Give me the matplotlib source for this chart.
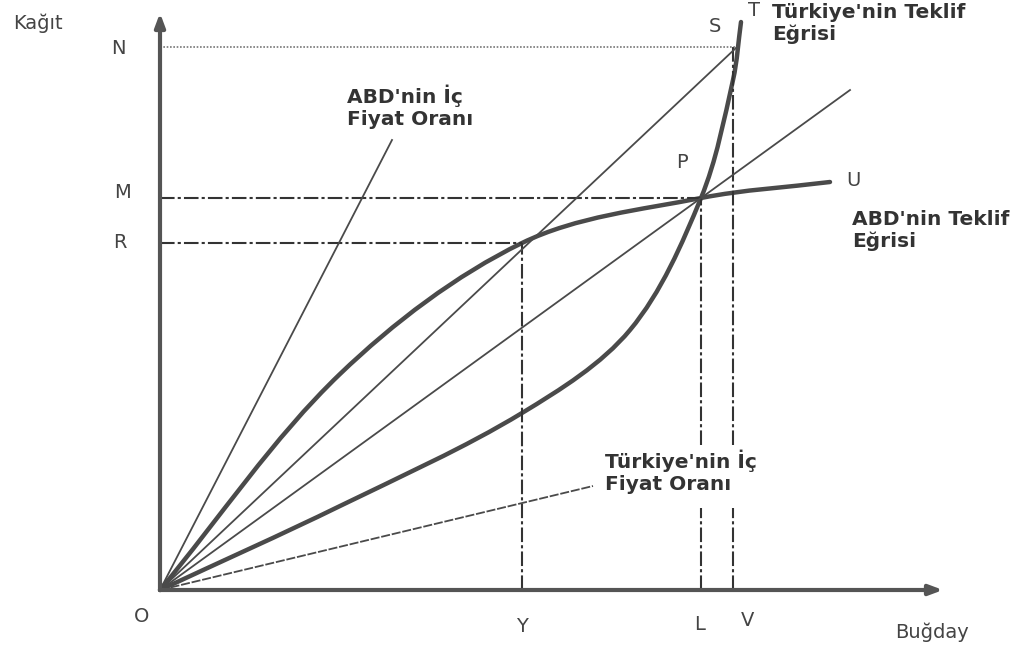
import numpy as np
import matplotlib.pyplot as plt
from matplotlib.path import Path
from matplotlib.patches import PathPatch

plt.rcParams['font.family'] = ['DejaVu Sans']

# Key levels (wheat on x, paper on y)
x_Y, x_L, x_V = 36.2, 54.1, 57.3
y_R, y_M, y_N = 34.7, 39.2, 54.3
S_pt = (57.7, 54.3)
x_axis_end, y_axis_end = 78.3, 57.7

# Offer curves (key points along each curve)
abd_x = [0, 18.0, 36.2, 54.1, 67.0]
abd_y = [0, 21.6, 34.7, 39.2, 40.8]
tr_x = [0, 18.0, 36.2, 47.0, 54.1, 57.3, 58.1]
tr_y = [0, 8.4, 17.7, 26.0, 39.2, 51.0, 56.8]

# Price-ratio rays from the origin: end points
abd_price_end = (23.2, 45.0)
tr_price_end = (43.3, 10.4)
op_ray_end_x = 69.0

line_col = '#4a4a4a'
text_col = '#333333'


def smooth_path(xs, ys):
    # cubic Hermite through the points, chord-length parameter
    pts = np.column_stack([xs, ys]).astype(float)
    d = np.hypot(*np.diff(pts, axis=0).T)
    t = np.concatenate([[0], np.cumsum(d)])
    n = len(pts)
    tang = np.zeros_like(pts)
    for i in range(n):
        if i == 0:
            tang[i] = (pts[1] - pts[0]) / (t[1] - t[0])
        elif i == n - 1:
            tang[i] = (pts[-1] - pts[-2]) / (t[-1] - t[-2])
        else:
            tang[i] = (pts[i + 1] - pts[i - 1]) / (t[i + 1] - t[i - 1])
    verts = [pts[0]]
    codes = [Path.MOVETO]
    for i in range(n - 1):
        h = t[i + 1] - t[i]
        verts += [pts[i] + tang[i] * h / 3, pts[i + 1] - tang[i + 1] * h / 3, pts[i + 1]]
        codes += [Path.CURVE4] * 3
    return Path(verts, codes)


fig = plt.figure(figsize=(10.29, 6.52), dpi=100)
ax = fig.add_axes([0, 0, 1, 1])
ax.set_xlim(-16.0, 86.9)
ax.set_ylim(-6.2, 59.0)
ax.axis('off')

# axes with arrows
arrow = dict(arrowstyle='-|>,head_length=0.8,head_width=0.3', color='#555555', lw=3,
             shrinkA=0, shrinkB=0)
ax.annotate('', xy=(0, y_axis_end), xytext=(0, 0), arrowprops=arrow)
ax.annotate('', xy=(x_axis_end, 0), xytext=(0, 0), arrowprops=arrow)

# reference lines
dash = (0, (7, 1.5, 1.5, 1.5))
ax.plot([0, S_pt[0]], [y_N, y_N], color='#777777', lw=1.2, ls=(0, (1, 1)))
ax.plot([0, x_L], [y_M, y_M], color='#333333', lw=1.5, ls=dash)
ax.plot([0, x_Y], [y_R, y_R], color='#333333', lw=1.5, ls=dash)
ax.plot([x_Y, x_Y], [0, y_R], color='#333333', lw=1.5, ls=dash)
gap_lo, gap_hi = 8.2, 14.5
for xv, ytop in [(x_L, y_M), (x_V, y_N)]:
    ax.plot([xv, xv], [0, gap_lo], color='#333333', lw=1.5, ls=dash)
    ax.plot([xv, xv], [gap_hi, ytop], color='#333333', lw=1.5, ls=dash)

# rays from the origin
ax.plot([0, abd_price_end[0]], [0, abd_price_end[1]], color=line_col, lw=1.3)
ax.plot([0, tr_price_end[0]], [0, tr_price_end[1]], color=line_col, lw=1.3, ls=(0, (5, 1)))
ax.plot([0, S_pt[0]], [0, S_pt[1]], color=line_col, lw=1.3)
ax.plot([0, op_ray_end_x], [0, op_ray_end_x * y_M / x_L], color=line_col, lw=1.3)

# offer curves
for xs, ys in [(abd_x, abd_y), (tr_x, tr_y)]:
    ax.add_patch(PathPatch(smooth_path(xs, ys), fill=False, ec=line_col, lw=3.2,
                           capstyle='round'))

# plain labels
plain = dict(color='#444444', fontsize=14, ha='center', va='center')
ax.text(-14.7, 56.7, 'Kağıt', **{**plain, 'ha': 'left'})
ax.text(-4.2, 54.2, 'N', **plain)
ax.text(-3.8, 39.7, 'M', **plain)
ax.text(-4.0, 34.7, 'R', **plain)
ax.text(-1.8, -2.7, 'O', **plain)
ax.text(36.2, -3.7, 'Y', **plain)
ax.text(54.0, -3.5, 'L', **plain)
ax.text(58.8, -3.0, 'V', **plain)
ax.text(77.2, -4.2, 'Buğday', **plain)
ax.text(55.5, 56.3, 'S', **plain)
ax.text(59.4, 58.0, 'T', **plain)
ax.text(52.2, 42.7, 'P', **plain)
ax.text(69.3, 41.0, 'U', **plain)

# bold labels
bold = dict(color=text_col, fontsize=14.5, fontweight='bold', ha='left', va='top',
            linespacing=1.15)
ax.text(18.7, 50.5, "ABD'nin İç\nFiyat Oranı", **bold)
ax.text(61.2, 58.7, "Türkiye'nin Teklif\nEğrisi", **bold)
ax.text(69.2, 38.0, "ABD'nin Teklif\nEğrisi", **bold)
ax.text(44.5, 14.0, "Türkiye'nin İç\nFiyat Oranı", **bold)

fig.savefig('out.png', dpi=100)
